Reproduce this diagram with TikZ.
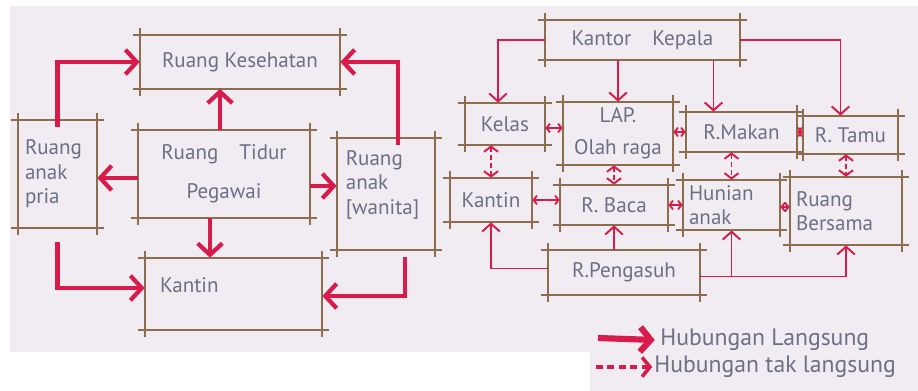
\documentclass[tikz,border=0pt]{standalone}
\usepackage{fontspec}
\setmainfont{PT Sans}
\usetikzlibrary{arrows.meta}
\definecolor{paper}{HTML}{F0ECF2}
\definecolor{pen}{HTML}{D81B4B}
\definecolor{wood}{HTML}{8C6D4E}
\definecolor{ink}{HTML}{6C7084}
\begin{document}
\begin{tikzpicture}[x=0.02cm,y=-0.02cm,
    room/.style={inner sep=0pt,text=ink,font=\fontsize{12}{14}\selectfont,align=center},
    direct/.style={pen,line width=2.4pt,-{Straight Barb[length=6.5pt,width=14pt]}},
    link/.style={pen,line width=1.1pt,-{Straight Barb[length=4.5pt,width=10pt]}},
    both/.style={pen,line width=1pt,{Straight Barb[length=2pt,width=5pt]}-{Straight Barb[length=2pt,width=5pt]}},
    maybe/.style={pen,line width=1.1pt,dash pattern=on 2.5pt off 2pt,{Straight Barb[length=3pt,width=8pt]}-{Straight Barb[length=3pt,width=8pt]}}]
    \useasboundingbox (0,0) rectangle (918,391);
    \fill[paper] (10,6) rectangle (918,352);
    \fill[paper] (590,352) rectangle (918,391);
    % left plan
    \node[room,minimum width=4cm,minimum height=1.06cm] (kes) at (240,62) {Ruang Kesehatan};
    \node[room,minimum width=1.58cm,minimum height=2.16cm,text width=1.3cm,align=left] (pria) at (57.5,174) {Ruang\\anak\\pria};
    \node[room,minimum width=3.44cm,minimum height=1.76cm] (tidur) at (224,174) {Ruang\quad Tidur\\[8pt]Pegawai};
    \node[room,minimum width=1.96cm,minimum height=2.24cm,
      label={[room,anchor=north west,inner xsep=5pt,inner ysep=7pt,align=left]north west:Ruang\\anak\\{[wanita]}}] (wanita) at (386,194) {};
    \node[room,minimum width=3.54cm,minimum height=1.44cm,
      label={[room,anchor=west,xshift=0.3cm,yshift=0.18cm]west:Kantin}] (kantinL) at (233.5,294) {};
    % right plan
    \node[room,minimum width=3.9cm,minimum height=0.8cm] (kantor) at (642.5,40) {Kantor\quad Kepala};
    \node[room,minimum width=1.6cm,minimum height=0.84cm] (kelas) at (505,124) {Kelas};
    \node[room,minimum width=2.2cm,minimum height=1.26cm] (lap) at (618,133.5) {LAP.\\[4pt]Olah raga};
    \node[room,minimum width=2.22cm,minimum height=0.8cm] (makan) at (741.5,132) {R.Makan};
    \node[room,minimum width=1.9cm,minimum height=0.76cm] (tamu) at (850.5,135) {R. Tamu};
    \node[room,minimum width=1.64cm,minimum height=0.88cm] (kantinR) at (491,200) {Kantin};
    \node[room,minimum width=2.16cm,minimum height=0.8cm] (baca) at (614,205) {R. Baca};
    \node[room,minimum width=1.94cm,minimum height=1cm,text width=1.7cm,align=left] (hunian) at (731.5,205) {Hunian\\anak};
    \node[room,minimum width=2.24cm,minimum height=1.36cm,text width=2cm,align=left] (bersama) at (846,211) {Ruang\\Bersama};
    \node[room,minimum width=3.04cm,minimum height=0.9cm] (pengasuh) at (624,272.5) {R.Pengasuh};
    % sketchy walls
    \foreach \r in {kes,pria,tidur,wanita,kantinL,kantor,kelas,lap,makan,tamu,kantinR,baca,hunian,bersama,pengasuh}
      \draw[wood,line width=1.1pt]
        ([xshift=-4pt]\r.north west) -- ([xshift=4pt]\r.north east)
        ([xshift=-4pt]\r.south west) -- ([xshift=4pt]\r.south east)
        ([yshift=4pt]\r.north west) -- ([yshift=-4pt]\r.south west)
        ([yshift=4pt]\r.north east) -- ([yshift=-4pt]\r.south east);
    % left connections
    \draw[direct] ([yshift=-4pt]pria.north) |- (kes.west);
    \draw[direct] ([xshift=0.24cm,yshift=-4pt]wanita.north) |- (kes.east);
    \draw[direct] ([xshift=-0.08cm]tidur.north) -- ([xshift=-0.08cm]tidur.north |- kes.south);
    \draw[direct] ([yshift=-0.08cm]tidur.west) -- ([yshift=-0.08cm]tidur.west -| pria.east);
    \draw[direct] ([yshift=-0.24cm]tidur.east) -- ([yshift=-0.24cm]tidur.east -| wanita.west);
    \draw[direct] ([xshift=-0.28cm]tidur.south) -- ([xshift=-0.28cm]tidur.south |- kantinL.north);
    \draw[direct] ([yshift=-8pt]pria.south) |- ([yshift=0.12cm]kantinL.west);
    \draw[direct] ([xshift=0.38cm,yshift=-4pt]wanita.south) |- ([yshift=-0.04cm]kantinL.east);
    % right connections
    \draw[link] (kantor.west) -| ([xshift=-0.14cm]kelas.north);
    \draw[link] (lap.north |- kantor.south) -- (lap.north);
    \draw[link] ([xshift=-0.56cm]makan.north |- kantor.south) -- ([xshift=-0.56cm]makan.north);
    \draw[link] (kantor.east) -| ([xshift=-0.2cm]tamu.north);
    \draw[maybe] (kantinR.north |- kelas.south) -- (kantinR.north);
    \draw[maybe] (baca.north |- lap.south) -- (baca.north);
    \draw[maybe] (hunian.north |- makan.south) -- (hunian.north);
    \draw[maybe] (bersama.north |- tamu.south) -- (bersama.north);
    \draw[both] ([yshift=-0.08cm]kelas.east) -- ([yshift=-0.08cm]kelas.east -| lap.west);
    \draw[both] (makan.west -| lap.east) -- (makan.west);
    \draw[both] (makan.east) -- (makan.east -| tamu.west);
    \draw[both] (kantinR.east) -- (kantinR.east -| baca.west);
    \draw[both] (baca.east) -- (baca.east -| hunian.west);
    \draw[both] ([yshift=-0.04cm]hunian.east) -- ([yshift=-0.04cm]hunian.east -| bersama.west);
    \draw[link] ([yshift=0.08cm]pengasuh.west) -| (kantinR.south);
    \draw[link] (baca.south |- pengasuh.north) -- (baca.south);
    \draw[link] ([yshift=-0.08cm]pengasuh.east) -| (bersama.south);
    \draw[link] ([yshift=-0.08cm]pengasuh.east -| hunian.south) -- (hunian.south);
    % legend
    \node[room,anchor=west,font=\fontsize{13.5}{15}\selectfont] (direkt) at (660,340) {Hubungan Langsung};
    \node[room,anchor=west,font=\fontsize{13.5}{15}\selectfont] (indirekt) at (654,367) {Hubungan tak langsung};
    \coordinate (d0) at (598,338);
    \coordinate (i0) at (596,367);
    \draw[pen,line width=3.5pt,-{Straight Barb[length=6pt,width=14pt]}] (d0) -- ([xshift=-3pt]direkt.west);
    \draw[pen,line width=2pt,dash pattern=on 4pt off 2.5pt,-{Straight Barb[length=4.5pt,width=11pt]}] (i0) -- ([xshift=-1pt]indirekt.west);
  \end{tikzpicture}
\end{document}
